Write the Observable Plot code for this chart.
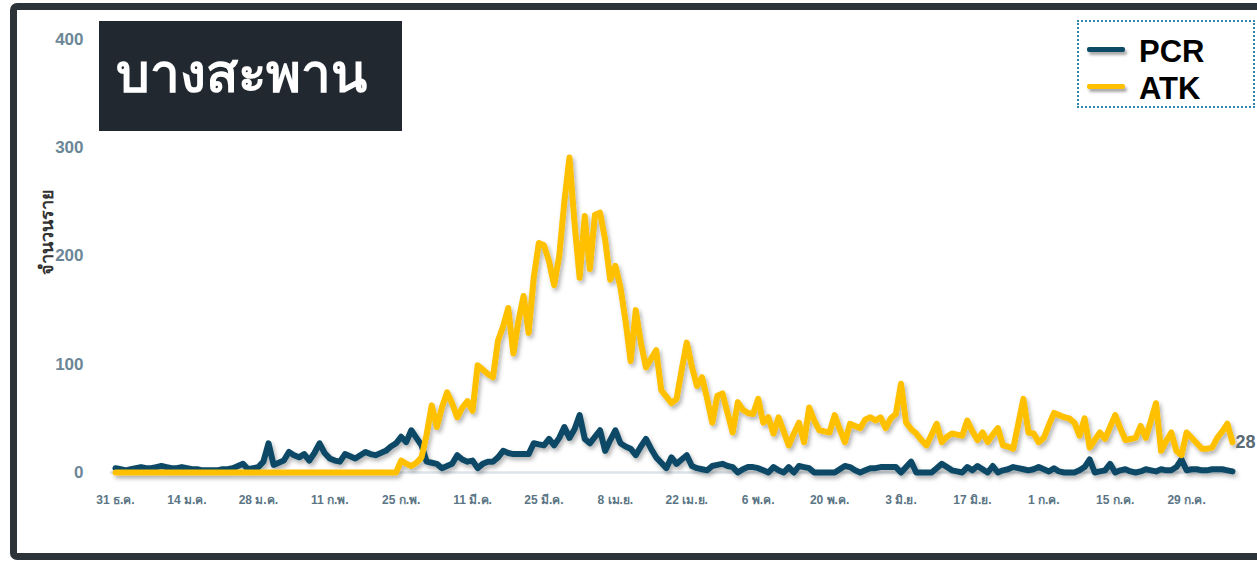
<!DOCTYPE html>
<html><head><meta charset="utf-8">
<script src="https://cdn.jsdelivr.net/npm/d3@7"></script>
<script src="https://cdn.jsdelivr.net/npm/@observablehq/plot@0.6"></script>
<style>
body{margin:0;background:#fff;font-family:"Liberation Sans",Arial,"Noto Sans",sans-serif;}
#wrap{position:relative;width:1257px;height:562px;overflow:hidden;background:#fff;}
#frame{position:absolute;left:10px;top:3px;width:1270px;height:557px;box-sizing:border-box;border:7px solid #2c343a;border-radius:7px;background:#fff;}
#chart{position:absolute;left:0;top:0;}
#title{position:absolute;left:99px;top:21px;width:303px;height:110px;background:#22282f;color:#fff;font-weight:bold;font-size:53px;line-height:106px;padding-left:17px;box-sizing:border-box;white-space:nowrap;}
#legend{position:absolute;left:1077px;top:20px;width:178px;height:88px;box-sizing:border-box;border:2px dotted #2f85ad;}
.sw{position:absolute;left:1087px;width:38px;height:5px;border-radius:2px;box-shadow:2px 3px 3px rgba(0,0,0,0.35);}
.lt{position:absolute;left:1139px;font-weight:bold;font-size:31px;color:#000;line-height:32px;}
</style></head>
<body>
<div id="wrap">
  <div id="frame"></div>
  <div id="chart"></div>
  <div id="title"></div>
  <div id="legend"></div>
  <div id="legendItems"></div>
</div>
<script>
const titleText = "บางสะพาน";
const yLabel = "จำนวนราย";
const startDate = "2021-12-31";
const seriesNames = ["PCR", "ATK"];
const seriesColors = ["#0c4a66", "#ffc000"];
const yTicks = [0, 100, 200, 300, 400];
const tickDates = ["2021-12-31","2022-01-14","2022-01-28","2022-02-11","2022-02-25","2022-03-11","2022-03-25","2022-04-08","2022-04-22","2022-05-06","2022-05-20","2022-06-03","2022-06-17","2022-07-01","2022-07-15","2022-07-29"];
const thaiMonths = ["ม.ค.","ก.พ.","มี.ค.","เม.ย.","พ.ค.","มิ.ย.","ก.ค.","ส.ค.","ก.ย.","ต.ค.","พ.ย.","ธ.ค."];

const pcr = [4,3,2,3,4,5,4,4,5,6, 5,4,4,5,4,3,3,2,2,2, 2,3,3,4,6,8,3,4,5,10,
 27,7,9,11,19,16,14,17,11,18, 27,18,13,11,10,17,15,13,16,19, 17,16,18,20,24,27,33,28,39,32,
 25,10,9,8,4,6,8,16,12,10, 11,4,8,10,10,14,20,18,17,17, 17,17,27,26,25,31,25,32,42,32,
 40,53,31,27,33,39,20,30,39,27, 24,22,16,24,31,22,14,9,4,14, 8,12,16,6,4,3,2,6,7,8,
 6,5,0,3,5,5,4,2,0,5, 2,0,5,0,6,5,4,0,0,0, 0,0,3,6,5,2,0,2,4,4,
 5,5,5,5,0,5,10,0,0,0, 0,4,8,5,2,1,0,5,2,6, 3,0,6,0,2,3,5,4,3,2,
 3,5,3,1,4,1,0,0,0,2, 5,12,0,1,2,8,0,2,3,1, 0,1,3,2,1,3,2,2,5,12,
 2,3,3,2,2,3,3,3,2,1];

const atk = [0,0,0,0,0,0,0,0,0,0, 0,0,0,0,0,0,0,0,0,0, 0,0,0,0,0,0,0,0,0,0,
 0,0,0,0,0,0,0,0,0,0, 0,0,0,0,0,0,0,0,0,0, 0,0,0,0,0,0,11,8,6,9,
 14,35,62,42,60,74,64,51,60,66, 57,99,95,91,88,122,135,152,110,140, 163,129,180,212,210,195,173,200,250,291,
 230,180,237,188,238,240,215,178,191,171, 140,103,150,120,97,105,113,76,70,64, 68,95,120,98,80,88,68,46,71,73,
 55,37,65,58,55,54,68,46,51,36, 51,38,25,36,46,28,60,48,39,38, 37,53,40,28,45,43,41,49,51,48,
 51,41,50,54,82,46,40,36,30,25, 35,45,28,33,36,35,34,48,38,30, 37,28,35,41,25,24,22,45,68,37,
 36,28,32,44,55,53,51,50,46,34, 50,23,30,37,31,42,53,41,30,31, 32,43,32,48,64,20,29,37,20,16,
 37,32,27,22,22,23,32,38,45,28];

const start = new Date(startDate + "T00:00:00Z");
const dates = pcr.map((_, i) => d3.utcDay.offset(start, i));
const valuesBySeries = [pcr, atk];
const rows = seriesNames.flatMap((s, k) => valuesBySeries[k].map((v, i) => ({series: s, date: dates[i], value: v})));
const lastAtk = [{date: dates[dates.length - 1], value: atk[atk.length - 1]}];
const ticks = tickDates.map(s => new Date(s + "T00:00:00Z"));
const fmt = d => `${d.getUTCDate()} ${thaiMonths[d.getUTCMonth()]}`;

const chart = Plot.plot({
  width: 1257, height: 562,
  marginLeft: 115, marginRight: 25, marginTop: 39, marginBottom: 90,
  style: {background: "transparent", fontFamily: '"Liberation Sans", Arial, sans-serif', overflow: "visible"},
  x: {type: "utc", domain: [dates[0], dates[dates.length - 1]]},
  y: {domain: [0, 400]},
  color: {domain: seriesNames, range: seriesColors},
  marks: [
    Plot.axisY({ticks: yTicks, tickSize: 0, tickPadding: 32, label: null, fontSize: 17, fontWeight: "bold", fill: "#6b8797"}),
    Plot.axisX({ticks: ticks, tickSize: 0, tickPadding: 23, label: null, tickFormat: fmt, fontSize: 12, fontWeight: "bold", fill: "#5b7585"}),
    Plot.ruleY([0], {stroke: "#dde4e9", strokeWidth: 2.5, insetLeft: -5, insetRight: -3}),
    Plot.text([yLabel], {frameAnchor: "left", y: () => 222, dx: -68, rotate: -90, textAnchor: "middle", fontSize: 18, fontWeight: "bold", fill: "#333"}),
    Plot.line(rows, {x: "date", y: "value", z: "series", stroke: "series", strokeWidth: 6, strokeLinejoin: "round", strokeLinecap: "round"}),
    Plot.text(lastAtk, {x: "date", y: "value", text: d => String(d.value), dx: 3, textAnchor: "start", fontSize: 18, fontWeight: "bold", fill: "#5a6a73"})
  ]
});

const ns = "http://www.w3.org/2000/svg";
const defs = document.createElementNS(ns, "defs");
defs.innerHTML = '<filter id="ds" x="-5%" y="-10%" width="110%" height="130%"><feDropShadow dx="2" dy="3" stdDeviation="2" flood-color="#000" flood-opacity="0.3"/></filter>';
chart.insertBefore(defs, chart.firstChild);
chart.querySelectorAll('g[aria-label="line"]').forEach(g => g.setAttribute("filter", "url(#ds)"));
document.getElementById("chart").appendChild(chart);

document.getElementById("title").textContent = titleText;
const li = document.getElementById("legendItems");
seriesNames.forEach((s, k) => {
  const sw = document.createElement("div");
  sw.className = "sw"; sw.style.top = (47 + k * 37) + "px"; sw.style.background = seriesColors[k];
  const t = document.createElement("div");
  t.className = "lt"; t.style.top = (36 + k * 37) + "px"; t.textContent = s;
  li.appendChild(sw); li.appendChild(t);
});
</script>
</body></html>
